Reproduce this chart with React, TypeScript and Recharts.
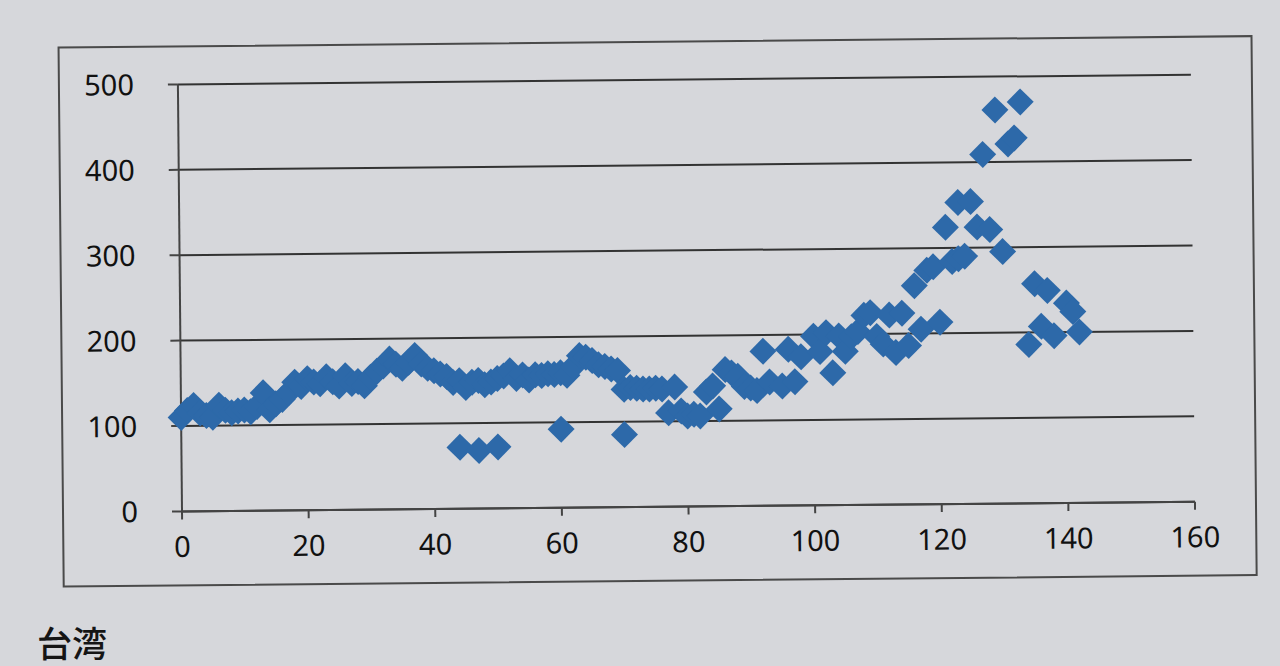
import React from "react";
import { ScatterChart, Scatter, XAxis, YAxis, CartesianGrid } from "recharts";

// points (x = index, y = value)
const pointX = [
  0, 1, 2, 3, 4, 5, 6, 7, 8, 9, 10, 11, 12, 13, 14, 15, 16, 17, 18, 19,
  20, 21, 22, 23, 24, 25, 26, 27, 28, 29, 30, 31, 32, 33, 34, 35, 36, 37, 38, 39,
  40, 41, 42, 43, 44, 45, 46, 47, 48, 49, 50, 51, 52, 53, 54, 55, 56, 57, 58, 59,
  60, 61, 62, 63, 64, 65, 66, 67, 68, 69, 70, 71, 72, 73, 74, 75, 76, 77, 78, 79,
  80, 81, 82, 83, 84, 85, 86, 87, 88, 89, 90, 91, 92, 93, 95, 96, 97, 98, 100, 101,
  102, 103, 104, 105, 106, 107, 108, 109, 110, 111, 112, 113, 114, 115, 116, 117, 118, 119, 120, 121,
  122, 123, 123, 124, 125, 126, 127, 128, 129, 130, 131, 132, 133, 134, 135, 136, 137, 138, 140, 141,
  142,
  44, 47, 50, 60, 70,
];
const pointY = [
  110, 118, 124, 115, 112, 110, 124, 118, 115, 117, 118, 116, 122, 138, 118, 125, 130, 138, 150, 145,
  154, 150, 148, 156, 150, 145, 157, 148, 150, 145, 155, 162, 168, 176, 170, 165, 172, 180, 170, 165,
  162, 158, 155, 148, 150, 142, 148, 150, 145, 148, 152, 155, 161, 152, 156, 150, 156, 155, 157, 156,
  158, 155, 165, 178, 176, 172, 167, 165, 162, 160, 138, 140, 139, 138, 138, 139, 138, 110, 140, 112,
  106, 108, 106, 134, 141, 114, 160, 156, 152, 140, 138, 135, 181, 145, 140, 183, 145, 174, 198, 180,
  202, 155, 198, 180, 197, 203, 222, 225, 197, 188, 222, 178, 224, 186, 256, 205, 274, 278, 213, 324,
  284, 287, 353, 290, 354, 324, 409, 321, 461, 295, 421, 428, 470, 186, 257, 207, 249, 196, 234, 224,
  200,
  72, 68, 72, 92, 85,
];

const xTicks = [0, 20, 40, 60, 80, 100, 120, 140, 160];
const yTicks = [0, 100, 200, 300, 400, 500];

const data = pointX.map((x, i) => ({ x, y: pointY[i] }));

const Diamond = (props: any) => {
  const { cx, cy } = props;
  const r = 13.5;
  return (
    <polygon
      points={`${cx},${cy - r} ${cx + r},${cy} ${cx},${cy + r} ${cx - r},${cy}`}
      fill="#2d69a9"
    />
  );
};

const tickStyle = { fill: "#111", fontSize: 29, fontFamily: "'Noto Sans', sans-serif" };

export default function App() {
  return (
    <div
      style={{
        position: "absolute",
        left: 0,
        top: 0,
        width: 1280,
        height: 666,
        overflow: "hidden",
        background: "#d6d7db",
      }}
    >
      <div style={{ transform: "rotate(-0.55deg)", transformOrigin: "640px 300px" }}>
        <div
          style={{
            position: "absolute",
            left: 60,
            top: 41,
            width: 1191,
            height: 537,
            border: "2px solid #4a4a4a",
          }}
        />
        <div style={{ position: "absolute", left: 0, top: -3 }}>
          <ScatterChart
            width={1280}
            height={600}
            margin={{ top: 83, right: 87, bottom: 40, left: 100 }}
          >
            <CartesianGrid vertical={false} stroke="#333" strokeWidth={2} />
            <XAxis
              type="number"
              dataKey="x"
              domain={[0, 160]}
              ticks={xTicks}
              interval={0}
              height={50}
              tick={tickStyle}
              tickSize={8}
              tickMargin={17}
              axisLine={{ stroke: "#444", strokeWidth: 2 }}
              tickLine={{ stroke: "#444", strokeWidth: 2 }}
            />
            <YAxis
              type="number"
              dataKey="y"
              domain={[0, 500]}
              ticks={yTicks}
              interval={0}
              width={80}
              tick={tickStyle}
              tickSize={10}
              tickMargin={34}
              axisLine={{ stroke: "#444", strokeWidth: 2 }}
              tickLine={{ stroke: "#444", strokeWidth: 2 }}
            />
            <Scatter data={data} shape={<Diamond />} isAnimationActive={false} />
          </ScatterChart>
        </div>
      </div>
      <div
        style={{
          position: "absolute",
          left: 37,
          top: 624,
          fontSize: 35,
          fontWeight: 500,
          color: "#151515",
          fontFamily: "'Noto Sans CJK JP', sans-serif",
          lineHeight: 1,
        }}
      >
        台湾
      </div>
    </div>
  );
}
